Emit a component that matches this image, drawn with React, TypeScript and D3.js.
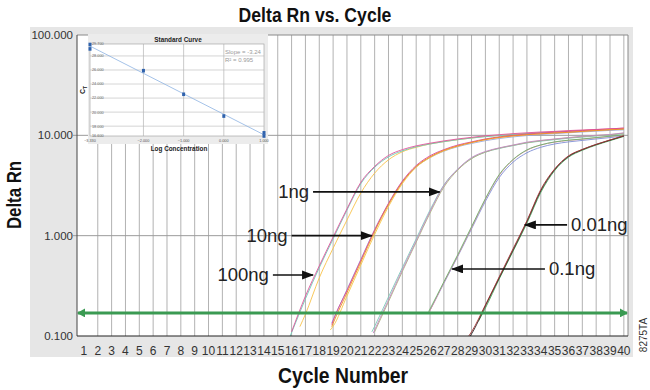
import * as d3 from 'd3';

// ---- main chart data ----
const cycleTicks = d3.range(1, 41);
const rnTicks = [0.1, 1, 10, 100];
const threshold = 0.17;

// amplification curves: [cycle, delta Rn]
const ng100Teal = [[15.9, 0.1], [16, 0.108], [17, 0.235], [18, 0.48], [19, 0.93], [20, 1.8], [21, 3.3], [22, 4.8], [23, 6.1], [24, 7.0], [25, 7.7], [26, 8.2], [27, 8.65], [28, 9.05], [29, 9.4], [30, 9.7], [31, 9.95], [32, 10.2], [33, 10.4], [34, 10.6], [35, 10.75], [36, 10.9], [37, 11.05], [38, 11.2], [39, 11.35], [40, 11.5]];
const ng100Pink = [[16, 0.11], [17, 0.25], [18, 0.5], [19, 0.97], [20, 1.85], [21, 3.4], [22, 4.9], [23, 6.3], [24, 7.2], [25, 7.85], [26, 8.35], [27, 8.8], [28, 9.2], [29, 9.55], [30, 9.9], [31, 10.15], [32, 10.4], [33, 10.6], [34, 10.8], [35, 10.95], [36, 11.15], [37, 11.3], [38, 11.45], [39, 11.6], [40, 11.8]];
const ng100Yellow = [[16.6, 0.124], [17, 0.165], [18, 0.38], [19, 0.75], [20, 1.43], [21, 2.66], [22, 4.2], [23, 5.7], [24, 6.85], [25, 7.6], [26, 8.2], [27, 8.65], [28, 9.05], [29, 9.4], [30, 9.75], [31, 10.0], [32, 10.25], [33, 10.45], [34, 10.65], [35, 10.85], [36, 11.0], [37, 11.2], [38, 11.35], [39, 11.5], [40, 11.65]];

const ng10Orange = [[18.9, 0.124], [19, 0.134], [20, 0.27], [21, 0.545], [22, 1.1], [23, 2.04], [24, 3.4], [25, 4.9], [26, 6.1], [27, 7.1], [28, 7.85], [29, 8.5], [30, 9.1], [31, 9.55], [32, 9.9], [33, 10.15], [34, 10.35], [35, 10.55], [36, 10.7], [37, 10.95], [38, 11.15], [39, 11.35], [40, 11.55]];
const ng10Magenta = [[18.9, 0.13], [19, 0.142], [20, 0.285], [21, 0.57], [22, 1.14], [23, 2.1], [24, 3.5], [25, 5.0], [26, 6.25], [27, 7.2], [28, 8.0], [29, 8.6], [30, 9.2], [31, 9.65], [32, 10.0], [33, 10.3], [34, 10.55], [35, 10.75], [36, 10.95], [37, 11.15], [38, 11.4], [39, 11.6], [40, 11.8]];
const ng10Yellow = [[18.8, 0.115], [19, 0.125], [20, 0.25], [21, 0.51], [22, 1.03], [23, 1.95], [24, 3.3], [25, 4.8], [26, 6.0], [27, 7.0], [28, 7.8], [29, 8.45], [30, 9.05], [31, 9.5], [32, 9.85], [33, 10.15], [34, 10.4], [35, 10.6], [36, 10.8], [37, 11.0], [38, 11.25], [39, 11.45], [40, 11.65]];
const ng10Blue = [[18.9, 0.135], [19, 0.145], [20, 0.29], [21, 0.58], [22, 1.15], [23, 2.08], [24, 3.45], [25, 4.85], [26, 6.0], [27, 6.95], [28, 7.7], [29, 8.3], [30, 8.85], [31, 9.3], [32, 9.65], [33, 9.95], [34, 10.2], [35, 10.4], [36, 10.6], [37, 10.8], [38, 11.0], [39, 11.2], [40, 11.35]];

const ng1Mauve = [[21.9, 0.107], [22, 0.115], [23, 0.229], [24, 0.457], [25, 0.89], [26, 1.74], [27, 3.16], [28, 4.6], [29, 6.0], [30, 6.9], [31, 7.5], [32, 8.0], [33, 8.55], [34, 8.9], [35, 9.2], [36, 9.5], [37, 9.8], [38, 10.0], [39, 10.2], [40, 10.6]];
const ng1Teal = [[21.8, 0.11], [22, 0.125], [23, 0.245], [24, 0.48], [25, 0.93], [26, 1.8], [27, 3.2], [28, 4.6], [29, 5.9], [30, 6.8], [31, 7.4], [32, 7.9], [33, 8.4], [34, 8.75], [35, 9.05], [36, 9.35], [37, 9.6], [38, 9.85], [39, 10.05], [40, 10.4]];
const ng1Olive = [[22, 0.11], [23, 0.22], [24, 0.44], [25, 0.86], [26, 1.68], [27, 3.05], [28, 4.5], [29, 5.85], [30, 6.8], [31, 7.45], [32, 7.95], [33, 8.45], [34, 8.85], [35, 9.15], [36, 9.45], [37, 9.7], [38, 9.95], [39, 10.15], [40, 10.5]];

const ng01Green = [[25.9, 0.175], [26, 0.186], [27, 0.347], [28, 0.645], [29, 1.23], [30, 2.34], [31, 4.07], [32, 5.75], [33, 7.16], [34, 8.03], [35, 8.6], [36, 8.95], [37, 9.2], [38, 9.5], [39, 9.8], [40, 10.1]];
const ng01Pink = [[25.9, 0.17], [26, 0.18], [27, 0.34], [28, 0.63], [29, 1.2], [30, 2.3], [31, 4.0], [32, 5.7], [33, 7.1], [34, 8.0], [35, 8.55], [36, 8.9], [37, 9.15], [38, 9.45], [39, 9.75], [40, 10.05]];
const ng01Blue = [[26, 0.18], [27, 0.335], [28, 0.62], [29, 1.17], [30, 2.2], [31, 3.8], [32, 5.4], [33, 6.7], [34, 7.6], [35, 8.2], [36, 8.6], [37, 8.9], [38, 9.2], [39, 9.5], [40, 9.85]];

const ng001Red = [[28.8, 0.1], [29, 0.11], [30, 0.204], [31, 0.389], [32, 0.74], [33, 1.41], [34, 2.88], [35, 4.62], [36, 6.24], [37, 7.24], [38, 8.13], [39, 9.0], [40, 9.9]];
const ng001Black = [[28.9, 0.1], [29, 0.105], [30, 0.2], [31, 0.38], [32, 0.72], [33, 1.38], [34, 2.8], [35, 4.55], [36, 6.15], [37, 7.2], [38, 8.1], [39, 8.95], [40, 9.85]];
const ng001Green = [[29.5, 0.14], [30, 0.19], [31, 0.37], [32, 0.7], [33, 1.33], [34, 2.7], [35, 4.45], [36, 6.05], [37, 7.1], [38, 8.0], [39, 8.85], [40, 9.75]];

const series = [
  { data: ng100Yellow, color: '#f7c24a' },
  { data: ng100Teal, color: '#6ccbb6' },
  { data: ng100Pink, color: '#e0559c' },
  { data: ng10Blue, color: '#9aa6dc' },
  { data: ng10Yellow, color: '#f5c84a' },
  { data: ng10Magenta, color: '#d8479a' },
  { data: ng10Orange, color: '#f08a24' },
  { data: ng1Teal, color: '#7ccab8' },
  { data: ng1Olive, color: '#a9b27a' },
  { data: ng1Mauve, color: '#c48ac4' },
  { data: ng01Blue, color: '#7f8ed6' },
  { data: ng01Pink, color: '#e38aa8' },
  { data: ng01Green, color: '#6cb46c' },
  { data: ng001Green, color: '#49a356' },
  { data: ng001Black, color: '#2a2a2a' },
  { data: ng001Red, color: '#a03030' },
];

// labels with arrows: tip at [cycle, value], tail at cycle
const annotations = [
  { label: '1ng', tip: [26.7, 2.73], tail: 17.55, side: 'left' },
  { label: '10ng', tip: [21.8, 1.0], tail: 16.0, side: 'left' },
  { label: '100ng', tip: [17.55, 0.406], tail: 14.65, side: 'left' },
  { label: '0.1ng', tip: [27.6, 0.466], tail: 34.3, side: 'right' },
  { label: '0.01ng', tip: [32.85, 1.28], tail: 35.9, side: 'right' },
];

// ---- standard curve inset data ----
const stdLogConc = [-3.33, -3.33, -2, -1, 0, 1, 1];
const stdCt = [29.63, 29.0, 25.9, 22.54, 19.44, 17.05, 16.6];
const stdXTicks = [-2, -1, 0];
const stdYTicks = [18, 20, 22, 24, 26, 28];

const sans = "'Liberation Sans', Arial, Helvetica, sans-serif";

function Inset() {
  const ix = d3.scaleLinear().domain([-3.33, 1]).range([90, 264]);
  const iy = d3.scaleLinear().domain([16.6, 29.7]).range([136, 44]);
  const pts = stdLogConc.map((v, i) => [v, stdCt[i]]);
  const mx = d3.mean(stdLogConc);
  const my = d3.mean(stdCt);
  const sxy = d3.sum(pts, p => (p[0] - mx) * (p[1] - my));
  const sxx = d3.sum(pts, p => (p[0] - mx) ** 2);
  const slope = sxy / sxx;
  const icpt = my - slope * mx;
  const [d0, d1] = ix.domain();
  const fmt = d3.format('.3f');
  const xLabs = [d0, ...stdXTicks, d1];
  const yLabs = [iy.domain()[0], ...stdYTicks, iy.domain()[1]];
  return (
    <g>
      <rect x={88} y={34} width={180} height={110} fill="#ececec" />
      <rect x={90} y={44} width={174} height={92} fill="#fff" stroke="#9a9a9a" strokeWidth={0.6} />
      {stdXTicks.map(t => (
        <line key={t} x1={ix(t)} x2={ix(t)} y1={44} y2={136} stroke="#a8a8a8" strokeWidth={0.6} />
      ))}
      {stdYTicks.map(t => (
        <line key={t} x1={90} x2={264} y1={iy(t)} y2={iy(t)} stroke="#b8b8b8" strokeWidth={0.6} />
      ))}
      {yLabs.map(t => (
        <text key={t} x={92} y={iy(t) + 1.4} fontSize={3.8} fill="#666" fontFamily={sans}>{fmt(t)}</text>
      ))}
      {xLabs.map(t => (
        <text key={t} x={ix(t)} y={141.5} fontSize={3.8} fill="#555" textAnchor="middle" fontFamily={sans}>{fmt(t)}</text>
      ))}
      <line x1={ix(d0)} y1={iy(icpt + slope * d0)} x2={ix(d1)} y2={iy(icpt + slope * d1)} stroke="#8db3e2" strokeWidth={0.8} />
      {pts.map((p, i) => (
        <rect key={i} x={ix(p[0]) - 1.5} y={iy(p[1]) - 1.8} width={3} height={3.6} fill="#2f62ad" />
      ))}
      <text transform="translate(178,42) scale(0.85,1)" fontSize={7.5} fontWeight="bold" textAnchor="middle" fontFamily={sans} fill="#222">Standard Curve</text>
      <text x={225} y={54} fontSize={6} fill="#9a9a9a" fontFamily={sans}>Slope = -3.24</text>
      <text x={225} y={62} fontSize={6} fill="#9a9a9a" fontFamily={sans}>R² = 0.995</text>
      <text transform="translate(179,151) scale(0.85,1)" fontSize={7.5} fontWeight="bold" textAnchor="middle" fontFamily={sans} fill="#222">Log Concentration</text>
      <text transform="translate(85,90) rotate(-90)" fontSize={7} fontWeight="bold" textAnchor="middle" fontFamily={sans} fill="#222">
        C<tspan fontSize={5} dy={1.5}>T</tspan>
      </text>
    </g>
  );
}

export default function App() {
  const left = 77, right = 628, top = 35, bottom = 336;
  const x = d3.scaleLinear().domain([0.5, 40.3]).range([left, right]);
  const y = d3.scaleLog().domain([0.1, 100]).range([bottom, top]);
  const line = d3.line<number[]>().x(d => x(d[0])).y(d => y(d[1])).curve(d3.curveMonotoneX);
  const rnFmt = d3.format('.3f');

  return (
    <svg width={650} height={390} style={{ position: 'absolute', left: 0, top: 0, background: '#fff' }}>
      <defs>
        <clipPath id="plotClip">
          <rect x={left} y={top} width={right - left} height={bottom - top} />
        </clipPath>
        <marker id="arrBlack" markerUnits="userSpaceOnUse" markerWidth={12} markerHeight={10} refX={11} refY={4.5} orient="auto">
          <path d="M0,0 L12,4.5 L0,9 z" fill="#111" />
        </marker>
        <marker id="arrGreen" markerUnits="userSpaceOnUse" markerWidth={8} markerHeight={9} refX={7} refY={4.5} orient="auto-start-reverse">
          <path d="M0,0 L8,4.5 L0,9 z" fill="#3a9a52" />
        </marker>
      </defs>

      {/* condensed bold headings */}
      <text transform="translate(315,22) scale(0.84,1)" textAnchor="middle" fontSize={21} fontWeight="bold" fontFamily={sans} fill="#111">Delta Rn vs. Cycle</text>

      <rect x={30} y={27} width={603} height={330} fill="#e6e6e6" />
      <rect x={left} y={top} width={right - left} height={bottom - top} fill="#fff" />

      {cycleTicks.slice(1).map(c => (
        <line key={c} x1={x(c)} x2={x(c)} y1={top} y2={bottom} stroke="#b2b2b2" strokeWidth={1} />
      ))}
      {rnTicks.map(t => (
        <line key={t} x1={left - 4} x2={right} y1={y(t)} y2={y(t)} stroke={t === 1 || t === 10 ? '#9c9c9c' : 'none'} strokeWidth={1} />
      ))}

      <g clipPath="url(#plotClip)">
        {series.map((s, i) => (
          <path key={i} d={line(s.data) || ''} fill="none" stroke={s.color} strokeWidth={0.9} />
        ))}
      </g>

      <line x1={left + 1} x2={right - 1} y1={y(threshold)} y2={y(threshold)} stroke="#3a9a52" strokeWidth={3}
        markerStart="url(#arrGreen)" markerEnd="url(#arrGreen)" />

      <line x1={left} x2={right} y1={top} y2={top} stroke="#8a8a8a" />
      <line x1={right} x2={right} y1={top} y2={bottom} stroke="#8a8a8a" />
      <line x1={left} x2={left} y1={top} y2={bottom} stroke="#444" />
      <line x1={left} x2={right} y1={bottom} y2={bottom} stroke="#222" strokeWidth={1.2} />

      {rnTicks.map(t => (
        <text key={t} x={73} y={y(t) + 4} textAnchor="end" fontSize={11.5} fontFamily={sans} fill="#333">{rnFmt(t)}</text>
      ))}
      {cycleTicks.map(c => (
        <text key={c} x={x(c)} y={355} textAnchor="middle" fontSize={12} fontFamily={sans} fill="#333">{c}</text>
      ))}

      <Inset />

      {annotations.map(a => {
        const ty = y(a.tip[1]);
        const tailX = x(a.tail);
        return (
          <g key={a.label}>
            <line x1={tailX} y1={ty} x2={x(a.tip[0])} y2={ty} stroke="#111" strokeWidth={1.6} markerEnd="url(#arrBlack)" />
            <text x={a.side === 'left' ? tailX - 4 : tailX + 4} y={ty + 6.5} textAnchor={a.side === 'left' ? 'end' : 'start'}
              fontSize={18.5} fontFamily={sans} fill="#222">{a.label}</text>
          </g>
        );
      })}

      <text transform="translate(21,195) rotate(-90) scale(0.84,1)" textAnchor="middle" fontSize={20} fontWeight="bold" fontFamily={sans} fill="#111">Delta Rn</text>
      <text transform="translate(343,383) scale(0.88,1)" textAnchor="middle" fontSize={22} fontWeight="bold" fontFamily={sans} fill="#111">Cycle Number</text>
      <text transform="translate(647,335) rotate(-90)" textAnchor="middle" fontSize={10} fontFamily={sans} fill="#333">8275TA</text>
    </svg>
  );
}
